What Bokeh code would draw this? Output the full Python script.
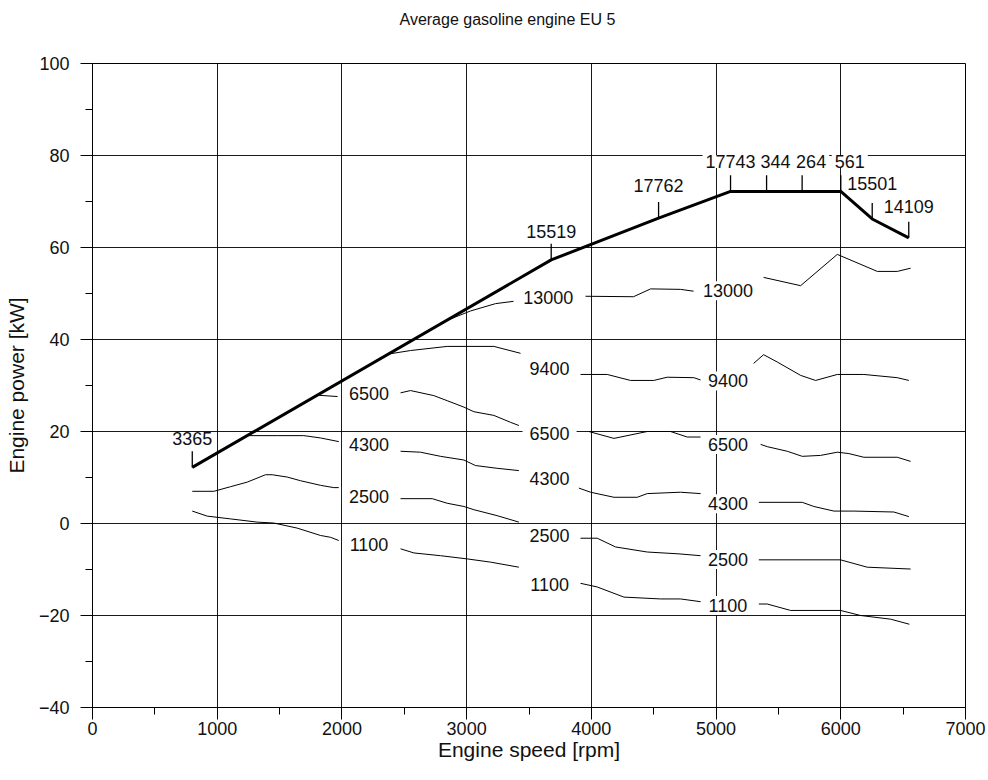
from bokeh.plotting import figure
from bokeh.models import Range1d, SingleIntervalTicker, ColumnDataSource
from bokeh.core.properties import value
from bokeh.embed import file_html
from bokeh.resources import INLINE

NaN = float("nan")

TITLE = "Average gasoline engine EU 5"
X_LABEL = "Engine speed [rpm]"
Y_LABEL = "Engine power [kW]"

# Full-load curve (engine speed rpm, power kW) with its fuel-flow labels
full_rpm = [800, 3678, 4539, 5116, 5405, 5690, 6000, 6252, 6545]
full_kw = [12.2, 57.3, 66.4, 72.2, 72.2, 72.2, 72.2, 66.2, 62.1]
full_text = ["3365", "15519", "17762", "17743", "344", "264", "561", "15501", "14109"]
full_text_shift = [0, 0, 0, 0, 9, 9, 9, 0, 0]
full_text_rise = [29, 28, 33, 30, 30, 30, 30, 35, 31]

# Iso fuel-flow lines (NaN = break where a label sits)
f13000_rpm = [2800, 3031, 3232, 3376, NaN, 3953, 4338, 4475, 4715, 4820, NaN,
              5381, 5678, 5972, 6293, 6453, 6560]
f13000_kw = [43.7, 46.2, 47.8, 48.3, NaN, 49.4, 49.3, 51.0, 50.9, 50.5, NaN,
             53.5, 51.7, 58.5, 54.8, 54.8, 55.5]

f9400_rpm = [2363, 2550, 2844, 3218, 3432, NaN, 3913, 4127, 4314, 4500, 4608, 4822, 4876, NaN,
             5301, 5381, 5491, 5678, 5798, 5972, 6185, 6453, 6546]
f9400_kw = [36.8, 37.6, 38.5, 38.5, 37.0, NaN, 32.4, 32.4, 31.1, 31.1, 31.8, 31.7, 31.2, NaN,
            34.8, 36.7, 35.1, 32.2, 31.1, 32.4, 32.4, 31.7, 31.1]

f6500_rpm = [1800, 1965, NaN, 2470, 2550, 2737, 2844, 2978, 3058, 3218, 3352, 3419, NaN,
             3980, 4181, 4448, 4635, 4769, 4876, NaN,
             5357, 5411, 5571, 5691, 5838, 5972, 6065, 6185, 6453, 6560]
f6500_kw = [27.9, 27.6, NaN, 28.4, 28.9, 27.8, 26.7, 25.3, 24.3, 23.5, 22.0, 21.3, NaN,
            20.0, 18.5, 20.0, 20.0, 18.8, 18.8, NaN,
            17.2, 16.7, 15.7, 14.6, 14.8, 15.5, 15.2, 14.4, 14.4, 13.5]

f4300_rpm = [1241, 1481, 1694, 1828, 1975, NaN, 2470, 2630, 2791, 2978, 3071, 3245, 3419, NaN,
             3900, 3994, 4181, 4368, 4448, 4715, 4876, NaN,
             5343, 5691, 5784, 5945, 6105, 6426, 6546]
f4300_kw = [19.1, 19.1, 19.1, 18.6, 17.8, NaN, 15.7, 15.5, 14.6, 13.8, 12.6, 12.0, 11.5, NaN,
            7.7, 6.8, 5.7, 5.7, 6.5, 6.8, 6.5, NaN,
            4.6, 4.6, 3.7, 2.7, 2.7, 2.5, 1.5]

f2500_rpm = [800, 973, 1107, 1241, 1387, 1441, 1561, 1668, 1828, 1935, 1975, NaN,
             2470, 2724, 2844, 2978, 3058, 3245, 3419, NaN,
             3913, 4047, 4194, 4448, 4702, 4876, NaN,
             5343, 5998, 6212, 6560]
f2500_kw = [7.0, 7.0, 8.0, 9.0, 10.6, 10.6, 10.1, 9.3, 8.3, 7.8, 7.8, NaN,
            5.4, 5.4, 4.4, 3.7, 3.0, 1.7, 0.3, NaN,
            -3.2, -3.2, -5.1, -6.2, -6.6, -7.0, NaN,
            -7.9, -7.9, -9.5, -9.9]

f1100_rpm = [800, 920, 1107, 1321, 1454, 1641, 1828, 1909, 1975, NaN,
             2470, 2577, 2791, 3005, 3192, 3419, NaN,
             3913, 4047, 4261, 4555, 4715, 4876, NaN,
             5343, 5410, 5598, 5998, 6159, 6400, 6550]
f1100_kw = [2.7, 1.6, 1.0, 0.3, 0.1, -1.0, -2.6, -3.0, -3.7, NaN,
            -5.5, -6.4, -7.0, -7.7, -8.4, -9.5, NaN,
            -13.0, -13.8, -16.0, -16.4, -16.4, -17.0, NaN,
            -17.5, -17.5, -18.9, -18.9, -20.0, -20.8, -21.9]

# Labels of the iso fuel-flow lines
iso_text = ["13000", "13000", "9400", "9400",
            "6500", "6500", "6500", "4300", "4300", "4300",
            "2500", "2500", "2500", "1100", "1100", "1100"]
iso_rpm = [3655, 5095, 3665, 5095,
           2217, 3665, 5095, 2217, 3665, 5095,
           2217, 3665, 5095, 2217, 3665, 5095]
iso_kw = [49.2, 50.6, 33.7, 31.0,
          28.3, 19.6, 17.2, 17.2, 9.8, 4.3,
          5.9, -2.7, -7.8, -4.6, -13.2, -17.8]

FONT = "Liberation Sans"
LEADER = 3.5  # kW, length of label leader ticks

p = figure(width=988, height=780,
           x_range=Range1d(0, 7000), y_range=Range1d(-40, 100),
           output_backend="svg", toolbar_location=None,
           min_border_left=92, min_border_right=23,
           min_border_top=63, min_border_bottom=73,
           background_fill_color="white", border_fill_color="white",
           outline_line_color="black", outline_line_width=1)

p.title.text = TITLE
p.title.align = "left"
p.title.offset = 307
p.title.text_font = FONT
p.title.text_font_size = "16px"
p.title.text_font_style = "normal"
p.title.text_color = "#111111"
p.title.standoff = 10
p.title.padding = dict(left=0, right=0, top=0, bottom=31)

xt = SingleIntervalTicker(interval=1000, num_minor_ticks=2)
yt = SingleIntervalTicker(interval=20, num_minor_ticks=2)
p.xaxis.ticker = xt
p.yaxis.ticker = yt
p.xgrid.ticker = xt
p.ygrid.ticker = yt
for g in (p.xgrid, p.ygrid):
    g.grid_line_color = "black"
    g.grid_line_width = 1
    g.grid_line_alpha = 0.9

for ax in (p.xaxis, p.yaxis):
    ax.axis_line_color = "black"
    ax.major_tick_line_color = "black"
    ax.minor_tick_line_color = "black"
    ax.major_tick_out = 12
    ax.major_tick_in = 0
    ax.minor_tick_out = 7
    ax.minor_tick_in = 0
    ax.major_label_text_font = FONT
    ax.major_label_text_font_size = "18px"
    ax.major_label_text_color = "#111111"
    ax.axis_label_text_font = FONT
    ax.axis_label_text_font_size = "21px"
    ax.axis_label_text_font_style = "normal"
    ax.axis_label_text_color = "#111111"

p.xaxis.axis_label = X_LABEL
p.yaxis.axis_label = Y_LABEL
p.xaxis.major_label_standoff = 2
p.xaxis.axis_label_standoff = 0
p.yaxis.major_label_standoff = 11
p.yaxis.axis_label_standoff = 8

for xs, ys in [(f13000_rpm, f13000_kw), (f9400_rpm, f9400_kw), (f6500_rpm, f6500_kw),
               (f4300_rpm, f4300_kw), (f2500_rpm, f2500_kw), (f1100_rpm, f1100_kw)]:
    p.line(xs, ys, line_color="black", line_width=1)

p.line(full_rpm, full_kw, line_color="black", line_width=3)
p.segment(x0=full_rpm, y0=full_kw, x1=full_rpm, y1=[k + LEADER for k in full_kw],
          line_color="black", line_width=1.3)

iso_src = ColumnDataSource(dict(x=iso_rpm, y=iso_kw, t=iso_text))
p.text(x="x", y="y", text="t", source=iso_src,
       text_font=value(FONT), text_font_size="18px", text_color="#111111",
       text_align="center", text_baseline="middle",
       background_fill_color="white", padding=dict(left=7, right=7, top=3, bottom=3))

# draw right-to-left so left labels sit on top
order = list(range(len(full_rpm)))[::-1]
full_src = ColumnDataSource(dict(
    x=[full_rpm[i] for i in order], y=[full_kw[i] for i in order],
    t=[full_text[i] for i in order], xo=[full_text_shift[i] for i in order],
    yo=[-full_text_rise[i] for i in order]))
p.text(x="x", y="y", text="t", source=full_src, x_offset="xo", y_offset="yo",
       text_font=value(FONT), text_font_size="18px", text_color="#111111",
       text_align="center", text_baseline="middle",
       background_fill_color="white", padding=dict(left=3, right=3, top=0, bottom=0))

open("out.html", "w").write(file_html(p, INLINE))
